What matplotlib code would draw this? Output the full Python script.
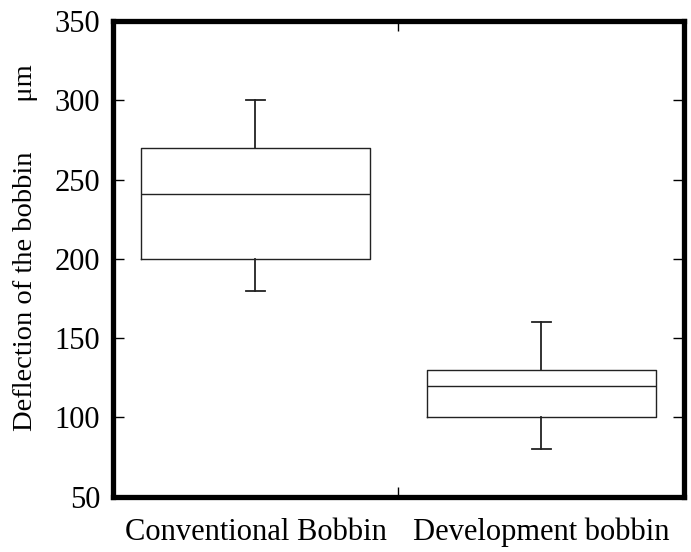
import matplotlib.pyplot as plt

# Box statistics for the two bobbin types (um)
labels = ['Conventional Bobbin', 'Development bobbin']
whisker_low = [180, 80]
q1 = [200, 100]
median = [241, 120]
q3 = [270, 130]
whisker_high = [300, 160]

plt.rcParams['font.family'] = ['Liberation Serif', 'DejaVu Serif']

stats = []
for i in range(len(labels)):
    stats.append({'label': labels[i], 'whislo': whisker_low[i], 'q1': q1[i],
                  'med': median[i], 'q3': q3[i], 'whishi': whisker_high[i],
                  'fliers': []})

fig = plt.figure(figsize=(6.91, 5.52), dpi=100)
ax = fig.add_axes([0.163, 0.1, 0.827, 0.862])

line = dict(color='#222222', linewidth=1.0)
ax.bxp(stats, positions=[1, 2], widths=0.8, showfliers=False,
       boxprops=line, medianprops=line,
       whiskerprops=dict(color='#222222', linewidth=1.3),
       capprops=dict(color='#222222', linewidth=1.3), capwidths=0.065)

ax.set_xlim(0.5, 2.5)
ax.set_ylim(50, 350)
ax.set_yticks(range(50, 351, 50))
ax.set_xticks([1, 2])
ax.set_xticklabels(labels)
ax.set_xticks([1.5], minor=True)

ax.tick_params(axis='y', direction='in', length=8, width=1, right=True,
               labelsize=22, pad=9)
ax.tick_params(axis='x', which='major', length=0, labelsize=22, pad=15)
ax.tick_params(axis='x', which='minor', direction='in', length=7, width=1,
               top=True)

for s in ax.spines.values():
    s.set_linewidth(3.8)

ax.set_ylabel('Deflection of the bobbin       \u03bcm', fontsize=20.5)
ax.yaxis.set_label_coords(-0.13, 0.523)

fig.savefig('out.png', dpi=100)
